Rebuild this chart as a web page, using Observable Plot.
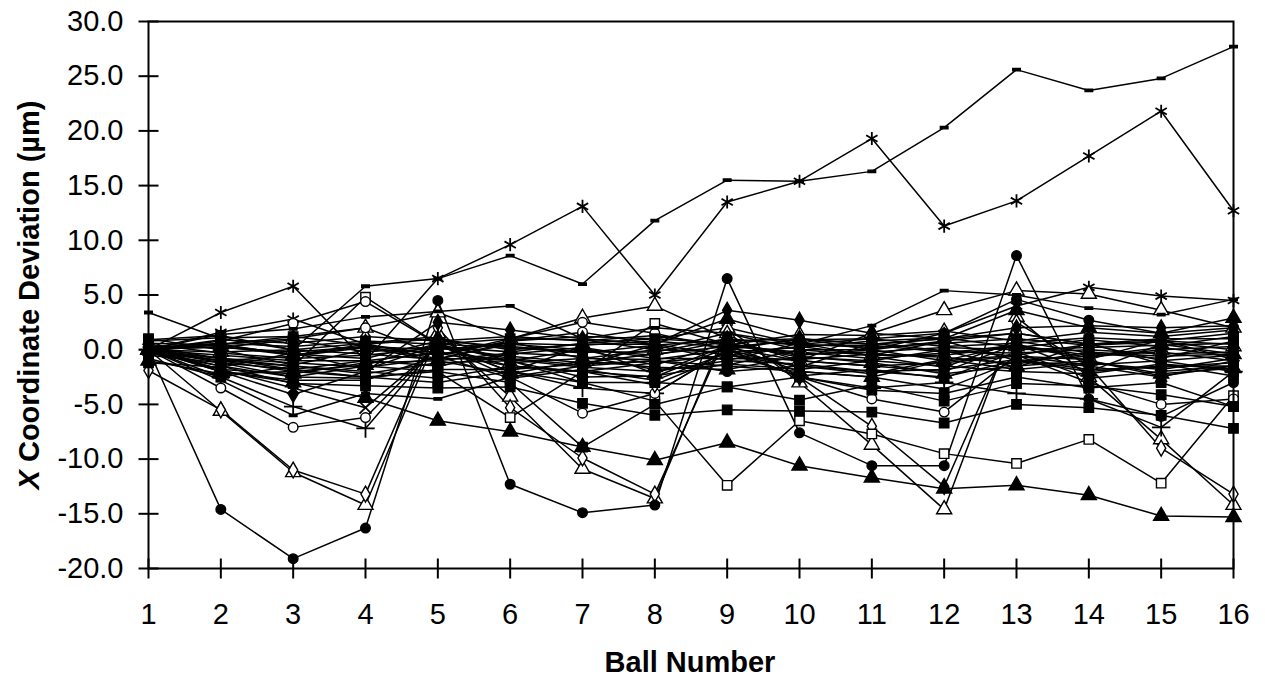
<!DOCTYPE html>
<html>
<head>
<meta charset="utf-8">
<script src="https://cdn.jsdelivr.net/npm/d3@7"></script>
<script src="https://cdn.jsdelivr.net/npm/@observablehq/plot@0.6"></script>
<style>
  html, body { margin: 0; padding: 0; background: #fff; }
  #chart svg { display: block; }
</style>
</head>
<body>
<div id="chart"></div>
<script>
// ---------- data ----------
const balls = [1, 2, 3, 4, 5, 6, 7, 8, 9, 10, 11, 12, 13, 14, 15, 16];
const yTicks = [-20, -15, -10, -5, 0, 5, 10, 15, 20, 25, 30];

// outlying series (values in µm, one per ball)
const devDashTop      = [3.4, 1.0, 0.0, 5.8, 6.5, 8.6, 6.0, 11.8, 15.5, 15.4, 16.3, 20.3, 25.6, 23.7, 24.8, 27.7];
const devStarTop      = [0, 3.4, 5.8, -1.0, 6.5, 9.6, 13.1, 5.0, 13.5, 15.4, 19.3, 11.3, 13.6, 17.7, 21.8, 12.7];
const devStar2        = [0, 1.6, 2.8, 0.5, -0.5, 0.8, 1.2, 1.0, 2.0, 0.5, 1.0, 1.5, 4.0, 5.7, 4.9, 4.5];
const devDash2        = [0, 1.4, 1.9, 3.0, 3.5, 4.0, 1.0, 2.0, 1.5, 0.5, 2.2, 5.4, 5.0, 3.8, 3.2, 4.6];
const devOpenTriHigh  = [0, 0.5, 1.0, 2.0, 3.4, 1.0, 2.9, 4.0, 1.0, -1.0, 1.5, 3.6, 5.4, 5.1, 3.6, 2.0];
const devOpenTriLow   = [0, -5.6, -11.2, -14.2, 1.5, -4.3, -10.9, -13.6, 2.0, -3.0, -8.7, -14.6, 3.0, -2.5, -8.2, -14.2];
const devOpenDiaLow   = [-1.9, -5.5, -11.0, -13.2, 2.0, -5.3, -9.9, -13.2, 1.5, -2.5, -7.0, -12.5, 2.5, -1.5, -9.0, -13.2];
const devDotLow       = [0, -14.6, -19.1, -16.3, 4.5, -12.3, -14.9, -14.2, 6.5, -7.6, -10.6, -10.6, 8.6, -4.5, -6.1, -3.0];
const devTriLow       = [0, -2.0, -3.0, -4.4, -6.5, -7.5, -8.9, -10.1, -8.5, -10.6, -11.7, -12.7, -12.4, -13.3, -15.2, -15.3];
const devOpenSqLow    = [0, -0.8, -1.5, 4.8, 0.5, -1.0, -3.0, -4.7, -12.4, -6.5, -7.7, -9.5, -10.4, -8.2, -12.2, -4.2];
const devOpenSq2      = [0, -1.2, -2.5, -1.5, -2.0, -6.2, -2.0, 2.4, 0.5, -0.5, 0.0, -1.0, -0.5, 0.5, -1.0, -0.5];
const devSqLow1       = [0, -1.5, -3.1, -3.3, -3.5, -3.4, -4.9, -6.0, -5.5, -5.6, -5.7, -6.7, -5.0, -5.3, -6.0, -7.2];
const devSqLow2       = [0, -1.0, -2.0, -2.5, -3.0, -2.0, -3.0, -3.0, -3.4, -4.6, -3.2, -4.7, -3.1, -3.3, -4.1, -5.2];
const devSqLow3       = [0.3, -0.8, -1.8, -2.5, -2.0, -3.0, -8.9, -5.0, -3.4, -2.5, -3.7, -4.0, -2.5, -3.5, -3.0, -5.2];
const devDiaHigh      = [0, -2.0, -4.1, -2.0, 2.5, 1.8, 1.0, 0.5, 3.6, 2.7, 1.5, 1.0, 2.0, 2.2, 2.0, 2.2];
const devPlus         = [0, -2.5, -5.2, -7.2, 0.5, -2.0, -3.5, -4.0, 0.0, -2.5, -3.5, -3.0, -4.0, -4.5, -7.1, -2.0];
const devTimes        = [0, -1.8, -3.5, -5.3, 0.3, -1.5, -2.0, -2.5, 0.2, -1.0, -1.5, -2.0, 0.5, -1.0, -2.4, -1.5];
const devOpenCircLow  = [0, -3.5, -7.1, -6.2, 0.5, -2.5, -5.8, -4.0, 0.0, -2.5, -4.5, -5.7, -0.5, -3.0, -5.0, -4.5];
const devOpenCircHigh = [0, 0.8, 2.4, 4.4, 0.5, 1.0, 2.5, 1.5, 0.0, 1.0, 0.5, 1.0, 1.5, 0.5, 1.0, 1.0];
const devOpenCircMid  = [0, 0.5, 1.2, 2.0, -0.5, 0.8, 1.6, 0.5, -0.5, 0.3, -0.5, 0.8, 1.5, 0.5, 0.8, 1.5];
const devDashLow      = [0, -2.8, -6.0, -4.0, -4.5, -2.5, -1.5, -1.0, -1.5, -2.0, -2.5, -3.6, -1.0, -2.0, -1.5, -1.5];
const devDotHigh      = [0, 0.5, -0.5, 0.3, -0.8, 0.5, 0.0, -0.5, 0.8, 1.0, 0.0, 1.5, 4.6, 2.7, 1.5, 2.0];
const devTriHigh      = [0, 0.3, -0.5, 0.5, 1.0, 0.0, 0.5, 0.5, 2.8, 1.0, 0.5, 1.0, 3.6, 2.0, 1.5, 2.9];
const devOpenDiaMid   = [0, -1.0, -1.5, -2.0, -2.6, -1.5, -2.0, -3.2, -0.5, -1.5, -2.0, -2.5, -1.0, -1.5, -2.5, -1.0];

// dense cluster near zero
const devC1  = [0.5, -0.3, -0.8, -0.5, 0.2, -0.6, -1.2, -0.4, 0.3, -0.2, -0.8, -0.3, 0.4, -0.5, -0.2, -1.0];
const devC2  = [-0.5, -1.2, -1.8, -1.0, -0.3, -1.5, -2.0, -1.2, -0.5, -1.0, -1.5, -1.2, -0.6, -1.4, -1.0, -2.0];
const devC3  = [0.2, 0.6, 0.3, 0.8, 0.5, 0.2, -0.3, 0.4, 0.9, 0.5, 0.2, 0.6, 1.0, 0.4, 0.7, 0.0];
const devC4  = [0, -0.8, -1.2, -1.6, -0.8, -0.9, -1.6, -2.0, -1.0, -1.3, -2.0, -1.8, -0.9, -1.8, -1.6, -1.2];
const devC5  = [0.3, 0.2, -0.2, 0.3, 0.0, 0.6, 0.4, 0.8, 0.2, 0.9, 1.0, 0.3, 0.6, 1.1, 0.8, 0.5];
const devC6  = [0, -1.8, -2.2, -1.2, -1.0, -2.2, -1.0, -1.6, -1.8, -0.6, -1.2, -2.2, -1.5, -1.0, -2.2, -1.7];
const devC7  = [-0.8, -2.5, -1.5, -2.2, -1.2, -1.0, -2.5, -2.4, -1.3, -1.8, -1.0, -1.5, -2.0, -2.2, -1.3, -2.4];
const devC8  = [0, 0.9, 0.6, 1.2, 0.8, 1.2, 0.8, 1.3, 0.4, 1.4, 1.3, 1.7, 0.8, 1.6, 1.2, 1.8];
const devC9  = [0.8, 1.1, 1.2, 0.4, -0.5, 1.0, 0.9, 0.0, -0.2, 0.2, 0.8, 1.1, 0.2, 0.9, 0.3, 1.2];
const devC10 = [0, -0.5, -1.0, -1.0, -1.5, -0.4, 0.2, -0.8, -0.8, -0.9, -0.4, -0.7, -1.3, -0.2, -0.6, -0.4];
const devC11 = [-0.3, -1.5, -2.5, -2.6, -1.8, -1.8, -1.3, -1.0, -2.0, -1.5, -2.2, -0.9, -1.8, -1.2, -1.8, -0.8];
const devC12 = [0.1, 0.2, 0.9, -0.2, 0.3, -0.2, 0.6, 1.0, 0.6, -0.4, -0.2, 0.2, 0.0, 0.2, 0.4, 0.6];
const devC13 = [0, -0.2, 0.0, 0.6, 1.2, -1.2, -0.8, 0.0, 1.5, 0.0, -0.5, -0.5, 0.3, -0.7, 0.0, 0.3];
const devC14 = [0.6, 0.4, -0.4, -0.8, 0.8, 0.3, -0.2, -0.2, 1.0, 0.4, 0.4, -0.2, -0.3, 0.0, -0.4, -0.2];
const devC15 = [-0.2, -1.0, -0.6, 0.2, -1.0, -0.3, -0.6, -1.8, -1.4, 0.0, 0.0, 0.8, -1.0, -0.6, 0.2, -0.6];
const devC16 = [0.4, -2.0, -2.8, -2.8, -0.6, -2.6, -1.8, -2.8, -0.3, -2.4, -1.8, -2.6, -0.2, -2.6, -2.0, -1.5];
const devC17 = [1.0, 0.0, -1.4, 0.0, -0.2, -1.0, 0.0, -1.4, 0.6, -0.7, -1.0, 0.0, -0.6, -0.9, 0.9, -0.9];
const devC18 = [-1.2, -1.6, -0.3, -1.8, 0.4, -0.8, -1.4, 0.4, -1.0, 0.6, -0.6, -1.6, 0.8, -0.3, -0.8, 0.8];
const devC19 = [0.9, 1.3, 0.0, -0.4, -0.9, 0.7, -0.8, -0.9, 0.0, -1.6, 0.6, -0.1, -1.6, 0.6, -1.3, -1.8];
const devC20 = [-1.0, -2.2, -2.0, -1.4, 0.6, -2.0, 0.3, -2.2, 0.4, -2.0, -2.5, -1.0, 0.5, -2.0, 0.5, -0.4];

// ---------- marker styles per series ----------
const dashSymbol = {
  draw(ctx, size) {
    const r = Math.sqrt(size / Math.PI);
    ctx.moveTo(-r, -r * 0.32); ctx.lineTo(r, -r * 0.32);
    ctx.lineTo(r, r * 0.32); ctx.lineTo(-r, r * 0.32); ctx.closePath();
  }
};
const hTick = { draw(ctx, size) { const r = Math.sqrt(size / Math.PI); ctx.moveTo(-r, 0); ctx.lineTo(r, 0); } };
const vTick = { draw(ctx, size) { const r = Math.sqrt(size / Math.PI); ctx.moveTo(0, -r); ctx.lineTo(0, r); } };

const seriesList = [
  {values: devC1, symbol: "square", filled: true},
  {values: devC2, symbol: "square", filled: true},
  {values: devC3, symbol: "square", filled: true},
  {values: devC4, symbol: "diamond", filled: true},
  {values: devC5, symbol: "circle", filled: true},
  {values: devC6, symbol: "triangle", filled: true},
  {values: devC7, symbol: "square", filled: true},
  {values: devC8, symbol: "diamond", filled: false},
  {values: devC9, symbol: "square", filled: true},
  {values: devC10, symbol: "square", filled: false},
  {values: devC11, symbol: "circle", filled: true},
  {values: devC12, symbol: "square", filled: true},
  {values: devC13, symbol: "triangle", filled: false},
  {values: devC14, symbol: "diamond", filled: true},
  {values: devC15, symbol: "square", filled: true},
  {values: devC16, symbol: "square", filled: true},
  {values: devC17, symbol: "square", filled: true},
  {values: devC18, symbol: "square", filled: true},
  {values: devC19, symbol: "square", filled: true},
  {values: devC20, symbol: "triangle", filled: true},
  {values: devDashTop, symbol: dashSymbol, filled: true},
  {values: devStarTop, symbol: "asterisk", filled: false},
  {values: devStar2, symbol: "asterisk", filled: false},
  {values: devDash2, symbol: dashSymbol, filled: true},
  {values: devOpenTriHigh, symbol: "triangle", filled: false},
  {values: devOpenTriLow, symbol: "triangle", filled: false},
  {values: devOpenDiaLow, symbol: "diamond", filled: false},
  {values: devDotLow, symbol: "circle", filled: true},
  {values: devTriLow, symbol: "triangle", filled: true},
  {values: devOpenSqLow, symbol: "square", filled: false},
  {values: devOpenSq2, symbol: "square", filled: false},
  {values: devSqLow1, symbol: "square", filled: true},
  {values: devSqLow2, symbol: "square", filled: true},
  {values: devSqLow3, symbol: "square", filled: true},
  {values: devDiaHigh, symbol: "diamond", filled: true},
  {values: devPlus, symbol: "plus", filled: false},
  {values: devTimes, symbol: "times", filled: false},
  {values: devOpenCircLow, symbol: "circle", filled: false},
  {values: devOpenCircHigh, symbol: "circle", filled: false},
  {values: devOpenCircMid, symbol: "circle", filled: false},
  {values: devDashLow, symbol: dashSymbol, filled: true},
  {values: devDotHigh, symbol: "circle", filled: true},
  {values: devTriHigh, symbol: "triangle", filled: true},
  {values: devOpenDiaMid, symbol: "diamond", filled: false}
];

const rows = seriesList.flatMap((s, i) => s.values.map((v, j) => ({series: i, ball: balls[j], value: v})));

const markerR = {square: 5.3, circle: 4.8, triangle: 5.6, diamond: 4.8, asterisk: 6.2, plus: 6.0, times: 5.5};

function dotMark(s, i) {
  const isLineSym = s.symbol === "asterisk" || s.symbol === "plus" || s.symbol === "times";
  const r = typeof s.symbol === "string" ? markerR[s.symbol] : 3.8;
  return Plot.dot(rows.filter(d => d.series === i), {
    x: "ball", y: "value", symbol: s.symbol, r,
    fill: isLineSym ? "none" : (s.filled ? "black" : "white"),
    stroke: "black", strokeWidth: isLineSym ? 1.8 : 1.4
  });
}
// open markers first, filled markers on top (denser black columns)
const openDots = seriesList.map((s, i) => (!s.filled ? dotMark(s, i) : null)).filter(Boolean);
const filledDots = seriesList.map((s, i) => (s.filled ? dotMark(s, i) : null)).filter(Boolean);

const FONT = "'Liberation Sans', Arial, Helvetica, sans-serif";

const chart = Plot.plot({
  width: 1265,
  height: 679,
  marginLeft: 148,
  marginRight: 32,
  marginTop: 21,
  marginBottom: 111,
  style: {fontFamily: FONT, background: "white", color: "black", overflow: "visible"},
  x: {domain: [1, 16]},
  y: {domain: [-20, 30]},
  marks: [
    Plot.axisX({ticks: balls, tickSize: 0, tickPadding: 35, fontSize: 29, label: null, tickFormat: d => String(d)}),
    Plot.axisY({ticks: yTicks, tickSize: 0, tickPadding: 25, fontSize: 29, label: null, tickFormat: d => d.toFixed(1)}),
    Plot.line(rows, {x: "ball", y: "value", z: "series", stroke: "black", strokeWidth: 1.5}),
    ...openDots,
    ...filledDots,
    Plot.frame({stroke: "black", strokeWidth: 2}),
    Plot.dot(yTicks, {y: d => d, frameAnchor: "left", symbol: hTick, r: 10, stroke: "black", strokeWidth: 2, fill: "none"}),
    Plot.dot(balls, {x: d => d, frameAnchor: "bottom", symbol: vTick, r: 10, stroke: "black", strokeWidth: 2, fill: "none"})
  ]
});

document.getElementById("chart").appendChild(chart);

const svg = d3.select(chart);
const yTitle = svg.append("text")
  .attr("transform", "translate(39,295) rotate(-90)")
  .attr("text-anchor", "middle")
  .style("font-family", FONT)
  .style("font-size", "29px")
  .style("font-weight", "bold")
  .attr("fill", "black");
yTitle.append("tspan").style("font-style", "italic").text("X");
yTitle.append("tspan").text(" Coordinate Deviation (µm)");

svg.append("text")
  .attr("x", 690).attr("y", 672)
  .attr("text-anchor", "middle")
  .style("font-family", FONT)
  .style("font-size", "29px")
  .style("font-weight", "bold")
  .attr("fill", "black")
  .text("Ball Number");
</script>
</body>
</html>
